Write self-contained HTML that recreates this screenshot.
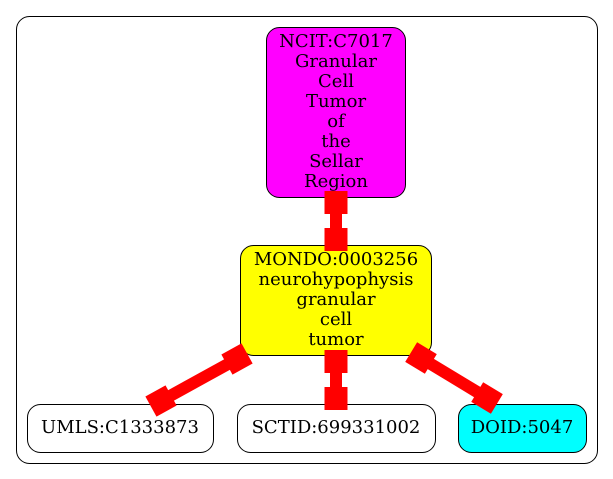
<!DOCTYPE html>
<html><head><meta charset="utf-8"><style>
html,body{margin:0;padding:0;background:#fff;}
svg{display:block;}
text{font-family:"DejaVu Serif","Liberation Serif",serif;font-size:18px;text-anchor:middle;fill:#000;}
</style></head><body>
<svg width="613" height="479" viewBox="0 0 613 479" xmlns="http://www.w3.org/2000/svg">
<rect x="16.5" y="16.5" width="581" height="447" rx="13" fill="#fff" stroke="#000" stroke-width="1"/>
<rect x="266.5" y="27.5" width="139" height="170" rx="13" fill="#ff00ff" stroke="#000"/>
<text x="336" y="47">NCIT:C7017</text>
<text x="336" y="67">Granular</text>
<text x="336" y="87">Cell</text>
<text x="336" y="107">Tumor</text>
<text x="336" y="127">of</text>
<text x="336" y="147">the</text>
<text x="336" y="167">Sellar</text>
<text x="336" y="187">Region</text>
<rect x="240.5" y="245.5" width="191" height="110" rx="13" fill="#ffff00" stroke="#000"/>
<text x="336" y="265">MONDO:0003256</text>
<text x="336" y="285">neurohypophysis</text>
<text x="336" y="305">granular</text>
<text x="336" y="325">cell</text>
<text x="336" y="345">tumor</text>
<rect x="27.5" y="404.5" width="186" height="48" rx="13" fill="#fff" stroke="#000"/>
<text x="120" y="433">UMLS:C1333873</text>
<rect x="237.5" y="404.5" width="198" height="48" rx="13" fill="#fff" stroke="#000"/>
<text x="336" y="433">SCTID:699331002</text>
<rect x="458.5" y="404.5" width="128" height="48" rx="13" fill="#00ffff" stroke="#000"/>
<text x="522" y="433">DOID:5047</text>
<g fill="#ff0000">
<g transform="translate(336,202.5) rotate(90)"><rect x="-11.5" y="-11.5" width="23" height="23"/><rect x="11" y="-6" width="15" height="12"/><rect x="25.5" y="-11.5" width="23" height="23"/></g>
<g transform="translate(336,361.5) rotate(90)"><rect x="-11.5" y="-11.5" width="23" height="23"/><rect x="11" y="-6" width="15" height="12"/><rect x="25.5" y="-11.5" width="23" height="23"/></g>
<g transform="translate(237,359) rotate(151.1)"><rect x="-11.5" y="-11.5" width="23" height="23"/><rect x="11" y="-6" width="65" height="12"/><rect x="75.3" y="-11.5" width="23" height="23"/></g>
<g transform="translate(421,358) rotate(31.2)"><rect x="-11.5" y="-11.5" width="23" height="23"/><rect x="11" y="-6" width="55" height="12"/><rect x="65.7" y="-11.5" width="23" height="23"/></g>
</g>
</svg>
</body></html>
